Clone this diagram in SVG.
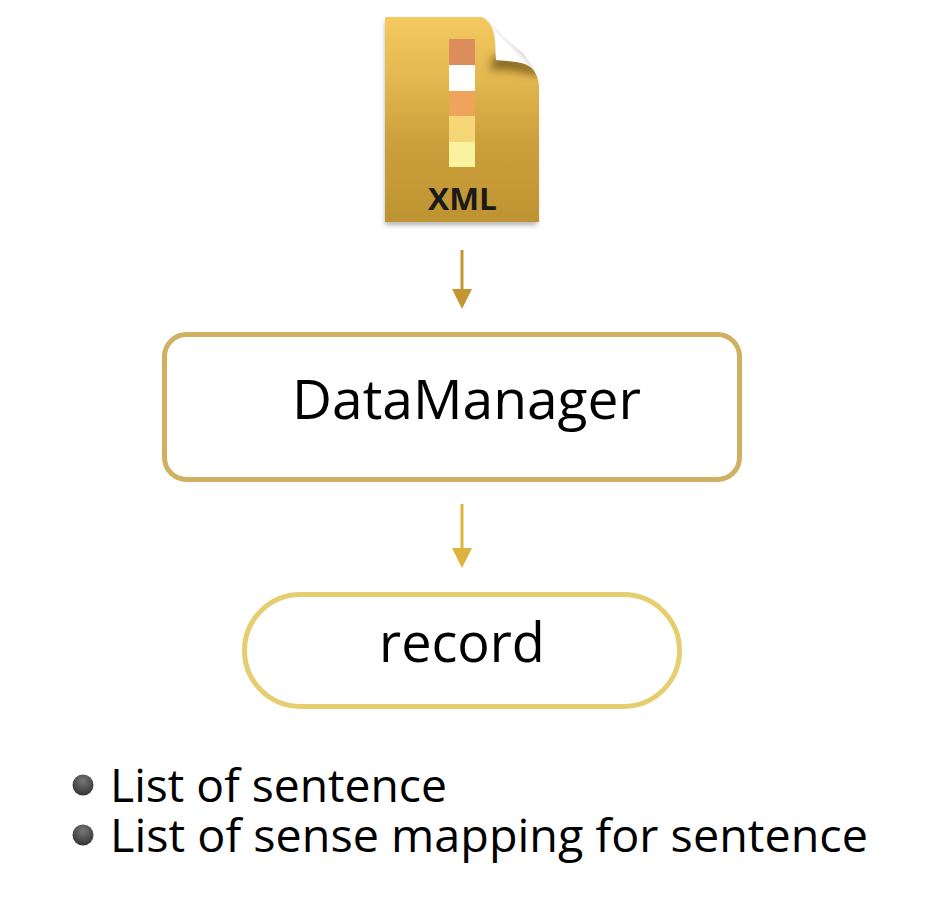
<svg xmlns="http://www.w3.org/2000/svg" width="942" height="922" viewBox="0 0 942 922">
<style>
text{font-family:"Open Sans","Noto Sans","Liberation Sans",sans-serif;fill:#000}
.big{font-size:54px;text-anchor:middle}
.li{font-size:46px}
.box{fill:#fff;stroke-width:5}
</style>
<defs>
<linearGradient id="body" x1="0" y1="0" x2="0" y2="1">
<stop offset="0" stop-color="#f3c960"/><stop offset=".3" stop-color="#e3b850"/><stop offset=".6" stop-color="#cca03c"/><stop offset="1" stop-color="#be9432"/>
</linearGradient>
<linearGradient id="curl" gradientUnits="userSpaceOnUse" x1="497" y1="58" x2="520" y2="36">
<stop offset="0" stop-color="#ffffff"/><stop offset=".5" stop-color="#ffffff"/><stop offset=".85" stop-color="#bdbdbd"/><stop offset="1" stop-color="#d8d8d8"/>
</linearGradient>
<radialGradient id="bul" cx=".5" cy=".3" r=".7">
<stop offset="0" stop-color="#777"/><stop offset="1" stop-color="#333"/>
</radialGradient>
<clipPath id="pg"><path d="M385 17H482C490 20 494 30 495 40L496 60C505 61 515 61 525 64C532 67 537 72 539 85V222H385Z"/></clipPath>
<filter id="sh" x="-10%" y="-10%" width="120%" height="120%"><feGaussianBlur stdDeviation="2.500"/></filter>
<filter id="sh2" x="-30%" y="-30%" width="160%" height="160%"><feGaussianBlur stdDeviation="4"/></filter>
<marker id="a1" markerUnits="userSpaceOnUse" markerWidth="20" markerHeight="20" refX="0" refY="10" orient="auto"><path d="M0 0L20 10L0 20Z" fill="#c3962f"/></marker>
<marker id="a2" markerUnits="userSpaceOnUse" markerWidth="20" markerHeight="20" refX="0" refY="10" orient="auto"><path d="M0 0L20 10L0 20Z" fill="#dcb33c"/></marker>
</defs>
<g id="xml-file">
<path d="M385 22H485L535 74L537 225H385Z" fill="#777" opacity=".55" filter="url(#sh)"/>
<path d="M385 17H482C490 20 494 30 495 40L496 60C505 61 515 61 525 64C532 67 537 72 539 85V222H385Z" fill="url(#body)"/>
<g clip-path="url(#pg)">
<path d="M494 56H512L542 68V76L510 70H490Z" fill="#6f5212" opacity=".8" filter="url(#sh2)"/>
</g>
<path d="M484 18L503 37L523 53L538 74C536 71 531 66 525 64C515 61 505 61 496 60L495 40C494 30 490 21 484 18Z" fill="url(#curl)"/>
<rect x="449" y="39" width="26" height="26" fill="#dc8d5b"/>
<rect x="449" y="65" width="26" height="26" fill="#fff"/>
<rect x="449" y="91" width="26" height="25" fill="#efa45c"/>
<rect x="449" y="116" width="26" height="26" fill="#f5d778"/>
<rect x="449" y="142" width="26" height="25" fill="#fbf2a0"/>
<text x="428" y="210" font-size="31" font-weight="700" textLength="69" lengthAdjust="spacingAndGlyphs" style="fill:#1a1a1a">XML</text>
</g>
<g id="connectors">
<line x1="462" y1="250" x2="462" y2="289" stroke="#c3962f" stroke-width="3" marker-end="url(#a1)"/>
<line x1="462" y1="504" x2="462" y2="548" stroke="#dcb33c" stroke-width="3" marker-end="url(#a2)"/>
</g>
<g id="datamanager">
<rect class="box" x="164.500" y="334.500" width="575" height="145" rx="22" stroke="#d0b063"/>
<text x="292" y="419" font-size="55" textLength="349" lengthAdjust="spacingAndGlyphs">DataManager</text>
</g>
<g id="record">
<rect class="box" x="244.500" y="594.500" width="435" height="112" rx="56" stroke="#e6ce70"/>
<text class="big" x="462" y="662">record</text>
</g>
<g id="list">
<circle cx="83" cy="785" r="10.500" fill="url(#bul)"/>
<circle cx="83" cy="835" r="10.500" fill="url(#bul)"/>
<text class="li" x="110" y="802" textLength="337" lengthAdjust="spacingAndGlyphs">List of sentence</text>
<text class="li" x="110" y="852" textLength="758" lengthAdjust="spacingAndGlyphs">List of sense mapping for sentence</text>
</g>
</svg>
